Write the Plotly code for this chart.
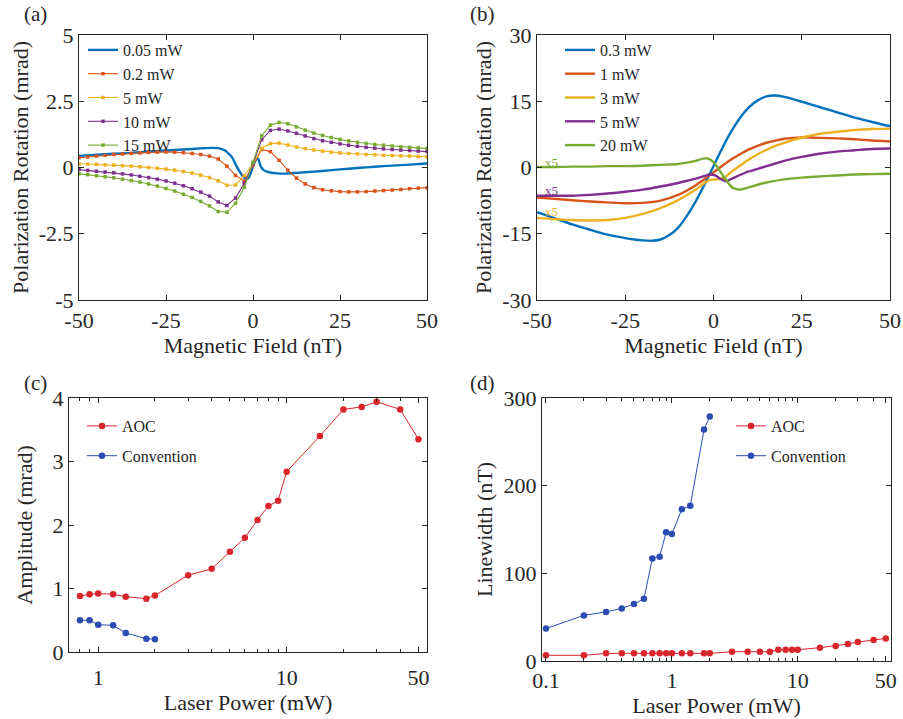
import math
import plotly.graph_objects as go

FONT = '"Liberation Serif", "Times New Roman", "DejaVu Serif", "Noto Serif", serif'
INK = "#262626"

# ---------------- Panel (a): polarization rotation vs field ----------------
a_field = [-50, -47.5, -45, -42.5, -40, -37.5, -35, -32.5, -30, -27.5, -25, -22.5, -20,
           -17.5, -15, -12.5, -10, -7.5, -5, -2.5, 0, 2.5, 5, 7.5, 10, 12.5, 15, 17.5,
           20, 22.5, 25, 27.5, 30, 32.5, 35, 37.5, 40, 42.5, 45, 47.5, 50]
a_red = [0.37, 0.40, 0.43, 0.46, 0.49, 0.51, 0.53, 0.55, 0.57, 0.58, 0.59, 0.58, 0.56,
         0.53, 0.49, 0.43, 0.32, 0.05, -0.30, -0.52, 0.08, 0.68, 0.60, 0.27, -0.10, -0.40,
         -0.62, -0.76, -0.84, -0.88, -0.91, -0.92, -0.92, -0.91, -0.89, -0.87, -0.85, -0.83,
         -0.80, -0.78, -0.76]
a_yellow = [0.14, 0.13, 0.12, 0.10, 0.09, 0.07, 0.05, 0.03, 0.00, -0.03, -0.06, -0.10, -0.15,
            -0.21, -0.29, -0.38, -0.50, -0.67, -0.66, -0.30, 0.15, 0.72, 0.90, 0.92, 0.85, 0.77,
            0.71, 0.66, 0.62, 0.58, 0.55, 0.53, 0.51, 0.49, 0.48, 0.46, 0.45, 0.44, 0.43, 0.42, 0.41]
a_purple = [-0.08, -0.11, -0.14, -0.17, -0.20, -0.24, -0.28, -0.33, -0.38, -0.44, -0.51, -0.59,
            -0.69, -0.80, -0.93, -1.08, -1.30, -1.43, -1.15, -0.60, 0.15, 1.05, 1.40, 1.45, 1.38,
            1.29, 1.19, 1.09, 1.01, 0.95, 0.89, 0.84, 0.80, 0.76, 0.73, 0.70, 0.68, 0.66, 0.64,
            0.62, 0.60]
a_green = [-0.24, -0.27, -0.31, -0.35, -0.39, -0.44, -0.49, -0.55, -0.62, -0.70, -0.79, -0.89,
           -1.01, -1.13, -1.28, -1.45, -1.66, -1.69, -1.35, -0.75, 0.20, 1.20, 1.60, 1.70, 1.65,
           1.53, 1.41, 1.30, 1.21, 1.13, 1.06, 1.00, 0.95, 0.91, 0.87, 0.84, 0.81, 0.78, 0.76,
           0.74, 0.72]
a_blue_field = [-50, -45, -40, -35, -30, -25, -20, -15, -12, -10, -8, -7, -6, -5, -4, -3, -2,
                -1.5, -1, -0.5, 0, 0.5, 1, 1.5, 2, 2.5, 3, 4, 5, 7, 9, 12, 15, 20, 25, 30, 35,
                40, 45, 50]
a_blue = [0.44, 0.48, 0.52, 0.55, 0.60, 0.64, 0.68, 0.72, 0.74, 0.73, 0.64, 0.52, 0.38, 0.12,
          -0.12, -0.32, -0.42, -0.42, -0.33, -0.15, 0.05, 0.20, 0.32, 0.33, 0.12, -0.02, -0.09,
          -0.16, -0.19, -0.22, -0.23, -0.21, -0.18, -0.13, -0.07, -0.02, 0.03, 0.07, 0.11, 0.15]
a_labels = ["0.05 mW", "0.2 mW", "5 mW", "10 mW", "15 mW"]

# ---------------- Panel (b) ----------------
b_blue_field = [-50, -47.5, -45, -42.5, -40, -37.5, -35, -32.5, -30, -27.5, -25, -22.5, -20,
                -17.5, -15, -12.5, -10, -7.5, -5, -2.5, 0, 2.5, 5, 7.5, 10, 12.5, 15, 17.5, 20,
                22.5, 25, 27.5, 30, 32.5, 35, 37.5, 40, 42.5, 45, 47.5, 50]
b_blue = [-10.1, -10.8, -11.5, -12.2, -12.9, -13.5, -14.1, -14.7, -15.2, -15.6, -16.0, -16.3,
          -16.5, -16.6, -16.3, -15.3, -13.6, -10.9, -7.6, -3.8, 0.3, 4.4, 8.1, 11.2, 13.6, 15.2,
          16.1, 16.3, 16.0, 15.5, 14.9, 14.3, 13.7, 13.1, 12.5, 11.9, 11.3, 10.8, 10.3, 9.8, 9.4]
b_red_field = [-50, -45, -40, -35, -30, -25, -20, -15, -10, -7.5, -5, -2.5, 0, 2.5, 5, 7.5, 10,
               12.5, 15, 17.5, 20, 22.5, 25, 27.5, 30, 35, 40, 45, 50]
b_red = [-6.8, -7.1, -7.4, -7.7, -7.9, -8.1, -8.0, -7.5, -6.2, -5.2, -4.0, -2.6, -1.1, 0.4, 1.8,
         3.0, 4.1, 4.9, 5.6, 6.1, 6.5, 6.7, 6.8, 6.8, 6.7, 6.6, 6.4, 6.1, 5.9]
b_yellow_field = [-50, -45, -40, -35, -30, -25, -20, -15, -10, -7.5, -5, -2.5, -1, 1, 3, 5, 7.5,
                  10, 12.5, 15, 17.5, 20, 25, 30, 35, 40, 45, 50]
b_yellow = [-11.4, -11.7, -11.9, -12.0, -11.9, -11.4, -10.5, -9.2, -7.4, -6.2, -5.0, -3.5, -2.8,
            -2.7, -2.3, -1.0, 0.4, 1.8, 3.0, 4.0, 4.9, 5.6, 6.8, 7.6, 8.1, 8.5, 8.7, 8.8]
b_purple_field = [-50, -45, -40, -35, -30, -25, -20, -15, -10, -7.5, -5, -2.5, -1, 0.5, 2, 3.5, 5,
                  7.5, 10, 12.5, 15, 17.5, 20, 25, 30, 35, 40, 45, 50]
b_purple = [-6.4, -6.4, -6.4, -6.2, -5.9, -5.5, -5.0, -4.3, -3.5, -3.0, -2.5, -1.9, -1.6, -1.8,
            -2.6, -3.1, -2.6, -1.7, -0.9, -0.3, 0.3, 0.9, 1.5, 2.4, 3.1, 3.6, 3.9, 4.2, 4.3]
b_green_field = [-50, -45, -40, -35, -30, -25, -20, -15, -10, -7.5, -5, -3, -1.5, 0, 1, 2, 3, 4,
                 5, 6, 7.5, 10, 12.5, 15, 20, 25, 30, 35, 40, 45, 50]
b_green = [0.1, 0.1, 0.2, 0.2, 0.3, 0.3, 0.4, 0.6, 0.8, 1.1, 1.5, 2.0, 2.0, 1.2, 0.2, -1.0, -2.2,
           -3.3, -4.3, -4.8, -5.0, -4.5, -3.9, -3.4, -2.7, -2.3, -2.0, -1.8, -1.6, -1.5, -1.4]
b_labels = ["0.3 mW", "1 mW", "3 mW", "5 mW", "20 mW"]
b_scale_text = ["x5", "x5", "x5"]
b_scale_y = [1.1, -5.1, -10.0]

# ---------------- Panel (c): amplitude vs laser power ----------------
c_power_aoc = [0.8, 0.9, 1, 1.2, 1.4, 1.8, 2, 3, 4, 5, 6, 7, 8, 9, 10, 15, 20, 25, 30, 40, 50]
c_amp_aoc = [0.88, 0.91, 0.92, 0.91, 0.87, 0.84, 0.89, 1.21, 1.31, 1.58, 1.80, 2.08, 2.30, 2.38,
             2.84, 3.40, 3.82, 3.86, 3.94, 3.82, 3.35]
c_power_conv = [0.8, 0.9, 1, 1.2, 1.4, 1.8, 2]
c_amp_conv = [0.50, 0.50, 0.43, 0.42, 0.30, 0.21, 0.20]

# ---------------- Panel (d): linewidth vs laser power ----------------
d_power_aoc = [0.1, 0.2, 0.3, 0.4, 0.5, 0.6, 0.7, 0.8, 0.9, 1, 1.2, 1.4, 1.8, 2, 3, 4, 5, 6, 7, 8,
               9, 10, 15, 20, 25, 30, 40, 50]
d_lw_aoc = [6.5, 6.5, 8.7, 8.7, 8.7, 8.7, 8.7, 8.7, 8.7, 8.7, 8.7, 8.7, 8.7, 8.7, 10.6, 10.6, 10.6,
            10.6, 12.9, 12.9, 12.9, 12.9, 15.2, 17.1, 19.4, 21.6, 23.9, 25.8]
d_power_conv = [0.1, 0.2, 0.3, 0.4, 0.5, 0.6, 0.7, 0.8, 0.9, 1, 1.2, 1.4, 1.8, 2]
d_lw_conv = [37, 52, 56, 60, 65, 71, 117, 119, 147, 145, 173, 177, 264, 279]

series_labels_cd = ["AOC", "Convention"]

MATLAB = ["#0072BD", "#D95319", "#EDB120", "#7E2F8E", "#77AC30"]
RED = "#D9262C"
BLUE = "#2B4DB3"

fig = go.Figure()

# Panel (a)
fig.add_trace(go.Scatter(x=a_blue_field, y=a_blue, mode="lines", name=a_labels[0],
                         line=dict(color=MATLAB[0], width=2.4, shape="spline", smoothing=0.6),
                         xaxis="x", yaxis="y", legend="legend"))
for lab, col, vals in zip(a_labels[1:], MATLAB[1:], [a_red, a_yellow, a_purple, a_green]):
    fig.add_trace(go.Scatter(x=a_field, y=vals, mode="lines+markers", name=lab,
                             line=dict(color=col, width=1.1),
                             marker=dict(color=col, size=3.5, symbol="square"),
                             xaxis="x", yaxis="y", legend="legend"))

# Panel (b)
b_sets = [(b_blue_field, b_blue), (b_red_field, b_red), (b_yellow_field, b_yellow),
          (b_purple_field, b_purple), (b_green_field, b_green)]
for lab, col, (xs, ys) in zip(b_labels, MATLAB, b_sets):
    fig.add_trace(go.Scatter(x=xs, y=ys, mode="lines", name=lab,
                             line=dict(color=col, width=2.4, shape="spline", smoothing=0.7),
                             xaxis="x2", yaxis="y2", legend="legend2"))

# Panel (c)
for lab, col, xs, ys in [(series_labels_cd[0], RED, c_power_aoc, c_amp_aoc),
                         (series_labels_cd[1], BLUE, c_power_conv, c_amp_conv)]:
    fig.add_trace(go.Scatter(x=xs, y=ys, mode="lines+markers", name=lab, legendgroup="c" + lab,
                             line=dict(color=col, width=1),
                             marker=dict(color=col, size=6.5),
                             xaxis="x3", yaxis="y3", legend="legend3"))

# Panel (d)
for lab, col, xs, ys in [(series_labels_cd[0], RED, d_power_aoc, d_lw_aoc),
                         (series_labels_cd[1], BLUE, d_power_conv, d_lw_conv)]:
    fig.add_trace(go.Scatter(x=xs, y=ys, mode="lines+markers", name=lab, legendgroup="d" + lab,
                             line=dict(color=col, width=1),
                             marker=dict(color=col, size=6.5),
                             xaxis="x4", yaxis="y4", legend="legend4"))

W, H = 903, 719


def px_x(p):
    return p / W


def px_y(p):
    return 1 - p / H


tickfont = dict(family=FONT, size=22, color=INK)
titlefont = dict(family=FONT, size=22, color=INK)


def ax(**kw):
    base = dict(showline=True, linecolor=INK, linewidth=1, mirror="ticks", ticks="inside",
                ticklen=5, tickwidth=1, tickcolor=INK, showgrid=False, zeroline=False,
                tickfont=tickfont, automargin=False, tickmode="array")
    base.update(kw)
    return base


minor_c = [0.7, 0.8, 0.9, 2, 3, 4, 5, 6, 7, 8, 9, 20, 30, 40]
minor_d = [0.2, 0.3, 0.4, 0.5, 0.6, 0.7, 0.8, 0.9, 2, 3, 4, 5, 6, 7, 8, 9, 20, 30, 40]

fig.update_layout(
    width=W, height=H, margin=dict(l=0, r=0, t=0, b=0),
    paper_bgcolor="white", plot_bgcolor="white",
    font=dict(family=FONT, color=INK),
    xaxis=ax(domain=[px_x(79), px_x(427)], anchor="y", range=[-50, 50],
             tickvals=[-50, -25, 0, 25, 50], ticktext=["-50", "-25", "0", "25", "50"],
             ticklabelstandoff=1,
             title=dict(text="Magnetic Field (nT)", font=titlefont, standoff=1)),
    yaxis=ax(domain=[px_y(300), px_y(35)], anchor="x", range=[-5, 5],
             tickvals=[-5, -2.5, 0, 2.5, 5], ticktext=["-5", "-2.5", "0", "2.5", "5"],
             title=dict(text="Polarization Rotation (mrad)", font=titlefont, standoff=4)),
    xaxis2=ax(domain=[px_x(537), px_x(890)], anchor="y2", range=[-50, 50],
              tickvals=[-50, -25, 0, 25, 50], ticktext=["-50", "-25", "0", "25", "50"],
              ticklabelstandoff=1,
              title=dict(text="Magnetic Field (nT)", font=titlefont, standoff=1)),
    yaxis2=ax(domain=[px_y(300), px_y(35)], anchor="x2", range=[-30, 30],
              tickvals=[-30, -15, 0, 15, 30], ticktext=["-30", "-15", "0", "15", "30"],
              title=dict(text="Polarization Rotation (mrad)", font=titlefont, standoff=4)),
    xaxis3=ax(domain=[px_x(69), px_x(427)], anchor="y3", type="log",
              range=[math.log10(0.7), math.log10(55.5)],
              tickvals=[1, 10, 50], ticktext=["1", "10", "50"], ticklabelstandoff=6,
              minor=dict(tickmode="array", tickvals=minor_c, ticks="inside", ticklen=3,
                         tickcolor=INK, tickwidth=1),
              title=dict(text="Laser Power (mW)", font=titlefont, standoff=3)),
    yaxis3=ax(domain=[px_y(652), px_y(398)], anchor="x3", range=[0, 4],
              tickvals=[0, 1, 2, 3, 4], ticktext=["0", "1", "2", "3", "4"],
              title=dict(text="Amplitude (mrad)", font=titlefont, standoff=13)),
    xaxis4=ax(domain=[px_x(542), px_x(891)], anchor="y4", type="log",
              range=[math.log10(0.093), math.log10(55)],
              tickvals=[0.1, 1, 10, 50], ticktext=["0.1", "1", "10", "50"],
              minor=dict(tickmode="array", tickvals=minor_d, ticks="inside", ticklen=3,
                         tickcolor=INK, tickwidth=1),
              title=dict(text="Laser Power (mW)", font=titlefont, standoff=3)),
    yaxis4=ax(domain=[px_y(661), px_y(398)], anchor="x4", range=[0, 300],
              tickvals=[0, 100, 200, 300], ticktext=["0", "100", "200", "300"],
              title=dict(text="Linewidth (nT)", font=titlefont, standoff=4)),
    legend=dict(x=px_x(83), y=px_y(33), xanchor="left", yanchor="top",
                bgcolor="rgba(0,0,0,0)", font=dict(family=FONT, size=16, color=INK)),
    legend2=dict(x=px_x(560), y=px_y(33), xanchor="left", yanchor="top",
                 bgcolor="rgba(0,0,0,0)", font=dict(family=FONT, size=16, color=INK)),
    legend3=dict(x=px_x(82), y=px_y(409), xanchor="left", yanchor="top",
                 bgcolor="rgba(0,0,0,0)", tracegroupgap=6,
                 font=dict(family=FONT, size=16, color=INK)),
    legend4=dict(x=px_x(731), y=px_y(409), xanchor="left", yanchor="top",
                 bgcolor="rgba(0,0,0,0)", tracegroupgap=6,
                 font=dict(family=FONT, size=16, color=INK)),
)

annots = []
for txt, cx, cy in [("(a)", 35, 14), ("(b)", 483, 14), ("(c)", 35, 383), ("(d)", 483, 383)]:
    annots.append(dict(text=txt, x=px_x(cx), y=px_y(cy), xref="paper", yref="paper",
                       showarrow=False, xanchor="center", yanchor="middle",
                       font=dict(family=FONT, size=21, color=INK)))
for txt, yv, col in zip(b_scale_text, b_scale_y, [MATLAB[4], MATLAB[3], MATLAB[2]]):
    annots.append(dict(text=txt, x=-46, y=yv, xref="x2", yref="y2", showarrow=False,
                       xanchor="center", yanchor="middle",
                       font=dict(family=FONT, size=13, color=col)))
fig.update_layout(annotations=annots)

fig.write_html("out.html", config={"displayModeBar": False},
               post_script="document.body.style.margin='0';"
                           "document.body.style.overflow='hidden';")
